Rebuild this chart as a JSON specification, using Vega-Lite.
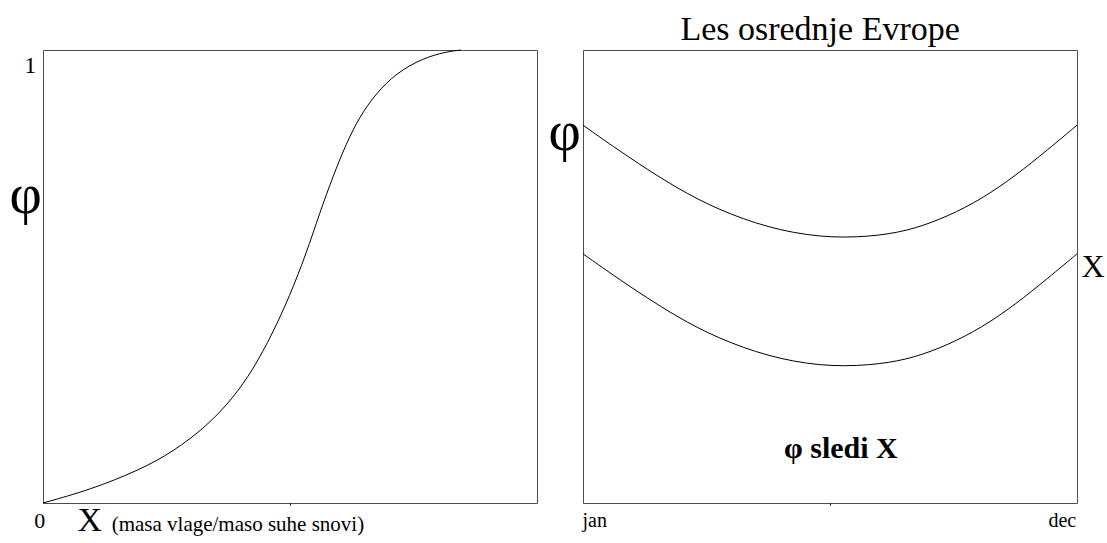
{
  "$schema": "https://vega.github.io/schema/vega-lite/v6.json",
  "padding": {"left": 9, "top": 12, "right": 0, "bottom": 0},
  "background": "white",
  "bounds": "flush",
  "spacing": 46,
  "config": {
    "view": {"stroke": "#4d4d4d", "strokeWidth": 1},
    "font": "Liberation Serif",
    "text": {"font": "Liberation Serif", "color": "black"},
    "axis": {"grid": false}
  },
  "hconcat": [
    {
      "width": 494,
      "height": 453,
      "layer": [
        {
          "data": {"values": [
            {"x": 0, "y": 0},
            {"x": 0.095, "y": 0.029},
            {"x": 0.196, "y": 0.073},
            {"x": 0.263, "y": 0.113},
            {"x": 0.332, "y": 0.170},
            {"x": 0.385, "y": 0.232},
            {"x": 0.425, "y": 0.294},
            {"x": 0.465, "y": 0.375},
            {"x": 0.499, "y": 0.456},
            {"x": 0.533, "y": 0.551},
            {"x": 0.560, "y": 0.640},
            {"x": 0.587, "y": 0.721},
            {"x": 0.614, "y": 0.794},
            {"x": 0.641, "y": 0.853},
            {"x": 0.674, "y": 0.904},
            {"x": 0.715, "y": 0.949},
            {"x": 0.769, "y": 0.982},
            {"x": 0.816, "y": 0.996},
            {"x": 0.846, "y": 1.0}
          ]},
          "mark": {"type": "line", "color": "black", "strokeWidth": 1, "interpolate": "basis", "clip": false},
          "encoding": {
            "x": {"field": "x", "type": "quantitative", "scale": {"domain": [0, 1], "nice": false, "zero": false},
                  "axis": {"values": [0.5], "labels": false, "title": null, "domain": false, "tickSize": 2, "tickColor": "black"}},
            "y": {"field": "y", "type": "quantitative", "scale": {"domain": [0, 1], "nice": false, "zero": false}, "axis": null}
          }
        },
        {
          "data": {"values": [{"t": "1"}]},
          "mark": {"type": "text", "font": "Liberation Serif", "fontSize": 24, "align": "center", "baseline": "alphabetic", "color": "black"},
          "encoding": {"text": {"field": "t"}, "x": {"datum": -0.026, "type": "quantitative"}, "y": {"datum": 0.950, "type": "quantitative"}}
        },
        {
          "data": {"values": [{"t": "0"}]},
          "mark": {"type": "text", "font": "Liberation Serif", "fontSize": 22, "align": "center", "baseline": "alphabetic", "color": "black"},
          "encoding": {"text": {"field": "t"}, "x": {"datum": -0.0067, "type": "quantitative"}, "y": {"datum": -0.0545, "type": "quantitative"}}
        },
        {
          "data": {"values": [{"t": "φ"}]},
          "mark": {"type": "text", "font": "Liberation Serif", "fontSize": 56, "align": "center", "baseline": "alphabetic", "color": "black"},
          "encoding": {"text": {"field": "t"}, "x": {"datum": -0.035, "type": "quantitative"}, "y": {"datum": 0.641, "type": "quantitative"}}
        },
        {
          "data": {"values": [{"t": "X"}]},
          "mark": {"type": "text", "font": "Liberation Serif", "fontSize": 34, "align": "left", "baseline": "alphabetic", "color": "black"},
          "encoding": {"text": {"field": "t"}, "x": {"datum": 0.070, "type": "quantitative"}, "y": {"datum": -0.061, "type": "quantitative"}}
        },
        {
          "data": {"values": [{"t": "(masa vlage/maso suhe snovi)"}]},
          "mark": {"type": "text", "font": "Liberation Serif", "fontSize": 21, "align": "left", "baseline": "alphabetic", "color": "black"},
          "encoding": {"text": {"field": "t"}, "x": {"datum": 0.139, "type": "quantitative"}, "y": {"datum": -0.061, "type": "quantitative"}}
        }
      ]
    },
    {
      "width": 494,
      "height": 453,
      "layer": [
        {
          "data": {"values": [
            {"series": "phi", "x": 0, "y": 0.834},
            {"series": "phi", "x": 0.061, "y": 0.787},
            {"series": "phi", "x": 0.129, "y": 0.737},
            {"series": "phi", "x": 0.210, "y": 0.682},
            {"series": "phi", "x": 0.298, "y": 0.636},
            {"series": "phi", "x": 0.400, "y": 0.600},
            {"series": "phi", "x": 0.505, "y": 0.584},
            {"series": "phi", "x": 0.603, "y": 0.590},
            {"series": "phi", "x": 0.671, "y": 0.605},
            {"series": "phi", "x": 0.739, "y": 0.633},
            {"series": "phi", "x": 0.807, "y": 0.671},
            {"series": "phi", "x": 0.875, "y": 0.722},
            {"series": "phi", "x": 0.942, "y": 0.781},
            {"series": "phi", "x": 1.0, "y": 0.834},
            {"series": "X", "x": 0, "y": 0.550},
            {"series": "X", "x": 0.061, "y": 0.503},
            {"series": "X", "x": 0.129, "y": 0.453},
            {"series": "X", "x": 0.210, "y": 0.398},
            {"series": "X", "x": 0.298, "y": 0.352},
            {"series": "X", "x": 0.400, "y": 0.316},
            {"series": "X", "x": 0.505, "y": 0.300},
            {"series": "X", "x": 0.603, "y": 0.306},
            {"series": "X", "x": 0.671, "y": 0.321},
            {"series": "X", "x": 0.739, "y": 0.349},
            {"series": "X", "x": 0.807, "y": 0.387},
            {"series": "X", "x": 0.875, "y": 0.438},
            {"series": "X", "x": 0.942, "y": 0.497},
            {"series": "X", "x": 1.0, "y": 0.550}
          ]},
          "mark": {"type": "line", "color": "black", "strokeWidth": 1, "interpolate": "basis", "clip": false},
          "encoding": {
            "x": {"field": "x", "type": "quantitative", "scale": {"domain": [0, 1], "nice": false, "zero": false},
                  "axis": {"values": [0.5], "labels": false, "title": null, "domain": false, "tickSize": 2, "tickColor": "black"}},
            "y": {"field": "y", "type": "quantitative", "scale": {"domain": [0, 1], "nice": false, "zero": false}, "axis": null},
            "detail": {"field": "series", "type": "nominal"}
          }
        },
        {
          "data": {"values": [{"t": "φ"}]},
          "mark": {"type": "text", "font": "Liberation Serif", "fontSize": 56, "align": "center", "baseline": "alphabetic", "color": "black"},
          "encoding": {"text": {"field": "t"}, "x": {"datum": -0.037, "type": "quantitative"}, "y": {"datum": 0.780, "type": "quantitative"}}
        },
        {
          "data": {"values": [{"t": "X"}]},
          "mark": {"type": "text", "font": "Liberation Serif", "fontSize": 32, "align": "left", "baseline": "alphabetic", "color": "black"},
          "encoding": {"text": {"field": "t"}, "x": {"datum": 1.009, "type": "quantitative"}, "y": {"datum": 0.4996, "type": "quantitative"}}
        },
        {
          "data": {"values": [{"t": "jan"}]},
          "mark": {"type": "text", "font": "Liberation Serif", "fontSize": 20, "align": "left", "baseline": "alphabetic", "color": "black"},
          "encoding": {"text": {"field": "t"}, "x": {"datum": -0.001, "type": "quantitative"}, "y": {"datum": -0.052, "type": "quantitative"}}
        },
        {
          "data": {"values": [{"t": "dec"}]},
          "mark": {"type": "text", "font": "Liberation Serif", "fontSize": 20, "align": "right", "baseline": "alphabetic", "color": "black"},
          "encoding": {"text": {"field": "t"}, "x": {"datum": 0.9985, "type": "quantitative"}, "y": {"datum": -0.052, "type": "quantitative"}}
        },
        {
          "data": {"values": [{"t": "Les osrednje Evrope"}]},
          "mark": {"type": "text", "font": "Liberation Serif", "fontSize": 34, "align": "center", "baseline": "alphabetic", "color": "black"},
          "encoding": {"text": {"field": "t"}, "x": {"datum": 0.48, "type": "quantitative"}, "y": {"datum": 1.023, "type": "quantitative"}}
        },
        {
          "data": {"values": [{"t": "φ sledi X"}]},
          "mark": {"type": "text", "font": "Liberation Serif", "fontSize": 30, "fontWeight": "bold", "align": "center", "baseline": "alphabetic", "color": "black"},
          "encoding": {"text": {"field": "t"}, "x": {"datum": 0.522, "type": "quantitative"}, "y": {"datum": 0.100, "type": "quantitative"}}
        }
      ]
    }
  ]
}
